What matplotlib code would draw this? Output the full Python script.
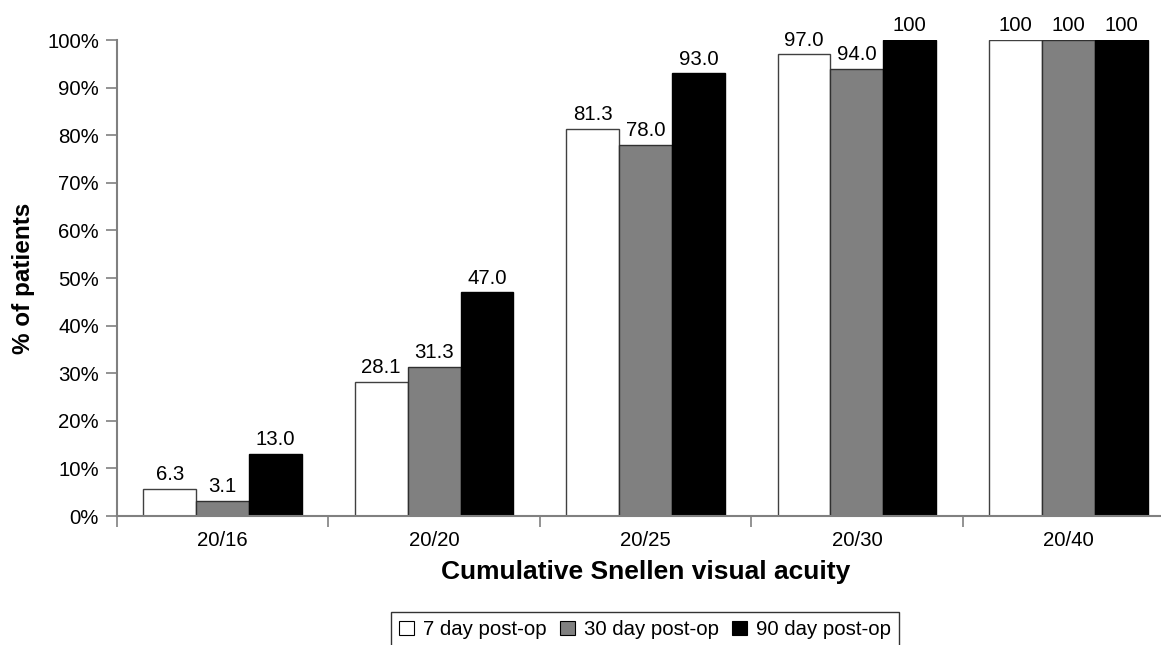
import matplotlib
matplotlib.use("Agg")
import matplotlib.pyplot as plt
import numpy as np

plt.rcParams['font.family'] = ['Liberation Sans', 'DejaVu Sans']

categories = ["20/16", "20/20", "20/25", "20/30", "20/40"]
series_names = ["7 day post-op", "30 day post-op", "90 day post-op"]
day7 = [5.7, 28.1, 81.3, 97.0, 100]
day30 = [3.1, 31.3, 78.0, 94.0, 100]
day90 = [13.0, 47.0, 93.0, 100, 100]
labels7 = ["6.3", "28.1", "81.3", "97.0", "100"]
labels30 = ["3.1", "31.3", "78.0", "94.0", "100"]
labels90 = ["13.0", "47.0", "93.0", "100", "100"]
yticks = [0, 10, 20, 30, 40, 50, 60, 70, 80, 90, 100]

fig = plt.figure(figsize=(11.61, 6.45), dpi=100)
ax = fig.add_axes([117/1161, 1-516/645, (1174-117)/1161, (516-40)/645])

x = np.arange(len(categories))
w = 0.25
colors = ["white", "#808080", "black"]
edges = ["#404040", "#303030", "black"]
for i, (vals, labs) in enumerate(zip([day7, day30, day90], [labels7, labels30, labels90])):
    bars = ax.bar(x + (i - 1) * w, vals, width=w, color=colors[i], edgecolor=edges[i],
                  linewidth=1.0, label=series_names[i])
    for b, lab in zip(bars, labs):
        ax.text(b.get_x() + b.get_width()/2, b.get_height() + 1.0, lab,
                ha='center', va='bottom', fontsize=14.7)

ax.set_xlim(-0.5, len(categories) - 0.5)
ax.set_ylim(0, 100)
ax.set_yticks(yticks)
ax.set_yticklabels([f"{v}%" for v in yticks], fontsize=14.7)
ax.set_xticks(np.arange(len(categories) + 1) - 0.5)
ax.set_xticklabels([])
ax.set_xticks(x, minor=True)
ax.set_xticklabels(categories, minor=True, fontsize=14.7)
ax.tick_params(axis='x', which='minor', length=0, pad=11)
ax.tick_params(axis='x', which='major', length=8, color='#808080', width=1.2)
ax.tick_params(axis='y', length=8, color='#808080', width=1.2, pad=5)
for s in ['top', 'right']:
    ax.spines[s].set_visible(False)
for s in ['left', 'bottom']:
    ax.spines[s].set_color('#808080')
    ax.spines[s].set_linewidth(1.5)

ax.set_ylabel("% of patients", fontsize=17.5, fontweight='bold', labelpad=9)
ax.set_xlabel("Cumulative Snellen visual acuity", fontsize=19, fontweight='bold', labelpad=7)

leg = fig.legend(loc='upper center', bbox_to_anchor=(645/1161, 1-612/645), ncol=3,
                 fontsize=14.7, frameon=True, fancybox=False, edgecolor='black',
                 handlelength=0.73, handleheight=0.73, handletextpad=0.45, columnspacing=0.65,
                 borderpad=0.4, borderaxespad=0)
leg.get_frame().set_linewidth(1.0)
for h in leg.legend_handles:
    h.set_edgecolor('black')
    h.set_linewidth(0.8)

fig.savefig("out.png", dpi=100)
